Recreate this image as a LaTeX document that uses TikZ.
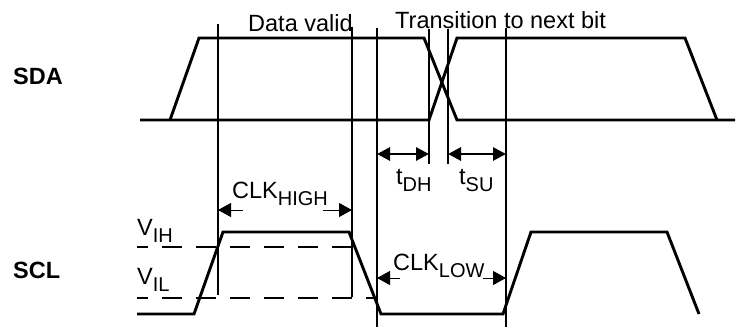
\documentclass[tikz,border=0pt]{standalone}
\usepackage{fontspec}
\setmainfont{Liberation Sans}
\usetikzlibrary{arrows.meta}
\newcommand\sbs[1]{\raisebox{-7pt}{\fontsize{20}{20}\selectfont #1}}
\tikzset{
  wave/.style={line width=2.9pt, line join=miter},
  vline/.style={line width=2.9pt},
  thr/.style={line width=2.9pt, dash pattern=on 20pt off 14pt, dash phase=9pt},
  dim/.style={line width=2.9pt, {Triangle[length=13pt,width=13pt]}-{Triangle[length=13pt,width=13pt]}},
  thinarr/.style={line width=1pt, -{Triangle[length=13pt,width=14pt]}},
  lbl/.style={inner sep=0pt, font=\fontsize{23.5}{23.5}\selectfont},
  sig/.style={inner sep=0pt, font=\fontsize{23.5}{23.5}\selectfont\bfseries},
}
\begin{document}
\begin{tikzpicture}[x=1pt,y=-1pt]
\useasboundingbox (0,0) rectangle (736,327);
% vertical markers
\coordinate (v1t) at (218,24);  \coordinate (v1b) at (218,295);
\coordinate (v2t) at (352,27);  \coordinate (v2b) at (352,297);
\coordinate (v3t) at (377,28);  \coordinate (v3b) at (377,327);
\coordinate (v4t) at (429,29);  \coordinate (v4b) at (429,164);
\coordinate (v5t) at (448,29);  \coordinate (v5b) at (448,164);
\coordinate (v6t) at (506,28);  \coordinate (v6b) at (506,327);
\foreach \i in {1,...,6} \draw[vline] (v\i t) -- (v\i b);
% SDA
\draw[wave] (140,120) -- (429,120) -- (457,38) -- (685,38) -- (717,120);
\draw[wave] (170,120) -- (199,38) -- (424,38) -- (457,120) -- (735,120);
% SCL
\draw[wave] (137,314) -- (194,314) -- (223,232) -- (349,232) -- (381,314) -- (503,314) -- (531,232) -- (667,232) -- (699,314);
% thresholds
\coordinate (vihs) at (137,247); \coordinate (vihe) at (354,247);
\coordinate (vils) at (137,298); \coordinate (vile) at (374,298);
\draw[thr] (vihs) -- (vihe);
\draw[thr] (vils) -- (vile);
% tDH / tSU
\coordinate (dha) at (377,154); \coordinate (dhb) at (429,154);
\coordinate (sua) at (448,154); \coordinate (sub) at (506,154);
\draw[dim] (dha) -- (dhb);
\draw[dim] (sua) -- (sub);
% CLK high / low arrows
\coordinate (h1) at (243,210); \coordinate (h1t) at (218,210);
\coordinate (h2) at (323,210); \coordinate (h2t) at (352,210);
\coordinate (l1) at (400,278); \coordinate (l1t) at (377,278);
\coordinate (l2) at (483,278); \coordinate (l2t) at (506,278);
\draw[thinarr] (h1) -- (h1t);
\draw[thinarr] (h2) -- (h2t);
\draw[thinarr] (l1) -- (l1t);
\draw[thinarr] (l2) -- (l2t);
% labels
\node[sig, anchor=west] (sda) at (13,76.5) {SDA};
\node[sig, anchor=west] (scl) at (13,270.5) {SCL};
\node[lbl, anchor=base west] (dv) at (248,31) {Data valid};
\node[lbl, anchor=base west] (tr) at (395,28) {Transition to next bit};
\node[lbl, anchor=base west] (tdh) at (396,184) {t\sbs{DH}};
\node[lbl, anchor=base west] (tsu) at (459,184) {t\sbs{SU}};
\node[lbl, anchor=base west] (ch) at (232,198) {CLK\sbs{HIGH}};
\node[lbl, anchor=base west] (cl) at (393,270) {CLK\sbs{LOW}};
\node[lbl, anchor=base west] (vih) at (137,235) {V\sbs{IH}};
\node[lbl, anchor=base west] (vil) at (137,284) {V\sbs{IL}};
\end{tikzpicture}
\end{document}
